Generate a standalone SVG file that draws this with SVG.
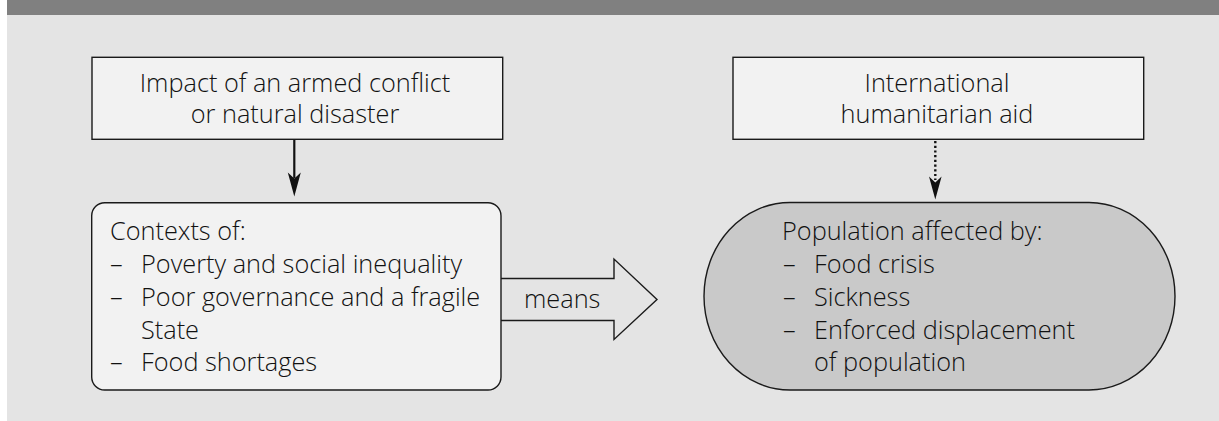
<svg xmlns="http://www.w3.org/2000/svg" width="1219" height="421" viewBox="0 0 1219 421">
  <style>
    .box { fill: #f2f2f2; stroke: #1a1a1a; stroke-width: 1.4; }
    .oval { fill: #c9c9c9; stroke: #1a1a1a; stroke-width: 1.4; }
    .t { font-family: "Open Sans", "Noto Sans", "Liberation Sans", sans-serif; font-size: 25.3px; font-weight: 300; fill: #111; }
    .c { text-anchor: middle; }
    .line { stroke: #111; stroke-width: 2.2; fill: none; }
    .dots { stroke: #111; stroke-width: 2.4; fill: none; stroke-dasharray: 2.2 2.5; }
    .head { fill: #111; stroke: none; }
    .big { fill: #e4e4e4; stroke: #1a1a1a; stroke-width: 1.4; }
  </style>
  <rect x="0" y="0" width="1219" height="421" fill="#ffffff"/>
  <rect x="7" y="15" width="1212" height="406" fill="#e4e4e4"/>
  <rect x="7" y="0" width="1212" height="15" fill="#808080"/>

  <g id="connectors">
    <line class="line" x1="294.3" y1="139.5" x2="294.3" y2="178"/>
    <path class="head" d="M287.8,172.5 L294.3,178.5 L300.8,172.5 L294.3,196.5 Z"/>
    <line class="dots" x1="935.3" y1="141" x2="935.3" y2="180"/>
    <path class="head" d="M929,176.5 L935.3,182.5 L941.6,176.5 L935.3,199.5 Z"/>
    <g id="means-arrow">
      <path class="big" d="M501,278.5 L614,278.5 L614,259 L657,299.5 L614,339.5 L614,320.5 L501,320.5"/>
      <text class="t" x="524" y="308">means</text>
    </g>
  </g>

  <g id="impact">
    <rect class="box" x="92" y="57.3" width="410.7" height="82"/>
    <text class="t c" x="295" y="91.5">Impact of an armed conflict</text>
    <text class="t c" x="295" y="122.7">or natural disaster</text>
  </g>

  <g id="aid">
    <rect class="box" x="733" y="57.3" width="410.7" height="82"/>
    <text class="t c" x="937" y="91.5">International</text>
    <text class="t c" x="937" y="122.7">humanitarian aid</text>
  </g>

  <g id="contexts">
    <rect class="box" x="91.7" y="202.7" width="409.3" height="187.3" rx="13" ry="13"/>
    <text class="t" x="110" y="240">Contexts of:</text>
    <text class="t" x="110" y="273">–</text>
    <text class="t" x="141" y="273">Poverty and social inequality</text>
    <text class="t" x="110" y="306">–</text>
    <text class="t" x="141" y="306">Poor governance and a fragile</text>
    <text class="t" x="141" y="338.5">State</text>
    <text class="t" x="110" y="371">–</text>
    <text class="t" x="141" y="371">Food shortages</text>
  </g>

  <g id="population">
    <rect class="oval" x="704" y="202.5" width="471" height="187.5" rx="86" ry="93.75"/>
    <text class="t" x="782" y="240">Population affected by:</text>
    <text class="t" x="783" y="273">–</text>
    <text class="t" x="814" y="273">Food crisis</text>
    <text class="t" x="783" y="306">–</text>
    <text class="t" x="814" y="306">Sickness</text>
    <text class="t" x="783" y="338.5">–</text>
    <text class="t" x="814" y="338.5">Enforced displacement</text>
    <text class="t" x="814" y="371">of population</text>
  </g>
</svg>
